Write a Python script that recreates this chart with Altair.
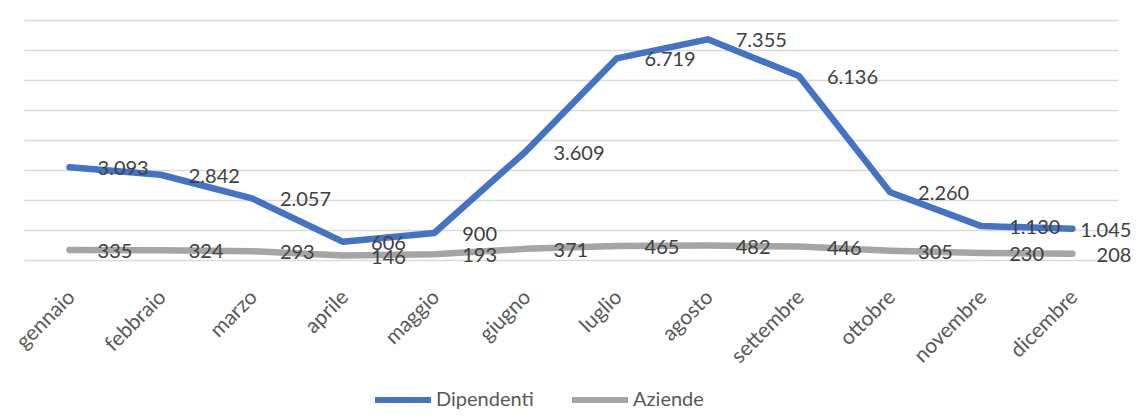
import altair as alt
import pandas as pd

months = ["gennaio", "febbraio", "marzo", "aprile", "maggio", "giugno",
          "luglio", "agosto", "settembre", "ottobre", "novembre", "dicembre"]
dipendenti = [3093, 2842, 2057, 606, 900, 3609, 6719, 7355, 6136, 2260, 1130, 1045]
aziende = [335, 324, 293, 146, 193, 371, 465, 482, 446, 305, 230, 208]
series = ["Dipendenti", "Aziende"]
colors = ["#4472C4", "#A5A5A5"]


def fmt(v):
    return f"{v:,}".replace(",", ".")


rows = []
for s, vals in zip(series, [dipendenti, aziende]):
    for m, v in zip(months, vals):
        rows.append({"mese": m, "serie": s, "valore": v, "label": fmt(v)})
df = pd.DataFrame(rows)

FONT = "Lato"

xs = alt.Scale(type="point", padding=0.5)
ys = alt.Scale(domain=[0, 8000], nice=False)

x = alt.X("mese:N", sort=months, title=None, scale=xs,
          axis=alt.Axis(labelAngle=-45, labelFontSize=21, labelColor="#595959",
                        labelFont=FONT, ticks=False, domain=False, grid=False,
                        labelPadding=26, labelOffset=-6))
y = alt.Y("valore:Q", title=None, scale=ys,
          axis=alt.Axis(values=list(range(0, 8001, 1000)), labels=False, ticks=False,
                        domain=False, grid=True, gridColor="#D9D9D9", gridWidth=1.5))

lines = alt.Chart(df).mark_line(strokeWidth=6.5, strokeCap="round", strokeJoin="round").encode(
    x=x, y=y,
    color=alt.Color("serie:N", sort=series,
                    scale=alt.Scale(domain=series, range=colors),
                    legend=alt.Legend(title=None, orient="none", legendX=348, legendY=349,
                                      direction="horizontal", symbolType="stroke",
                                      symbolStrokeWidth=6, symbolSize=3136,
                                      labelFontSize=20, labelColor="#595959", labelFont=FONT,
                                      columnPadding=26, labelOffset=2)),
    order=alt.Order("serie:N", sort="ascending"),
)

labels = alt.Chart(df).transform_filter(alt.datum.mese != "dicembre").mark_text(
    align="left", baseline="middle", dx=28, dy=2,
    fontSize=20, font=FONT, color="#404040").encode(x=x, y=y, text="label:N")

labels_last = alt.Chart(df).transform_filter(alt.datum.mese == "dicembre").mark_text(
    align="right", baseline="middle", dx=59, dy=2,
    fontSize=20, font=FONT, color="#404040").encode(x=x, y=y, text="label:N")

chart = alt.layer(lines, labels, labels_last).properties(
    width=1094, height=240,
    padding={"left": 16, "top": 12, "right": 16, "bottom": 151},
    autosize=alt.AutoSizeParams(type="none"),
).configure_view(stroke=None)

chart.save("out.html", embed_options={"renderer": "svg", "actions": False})
